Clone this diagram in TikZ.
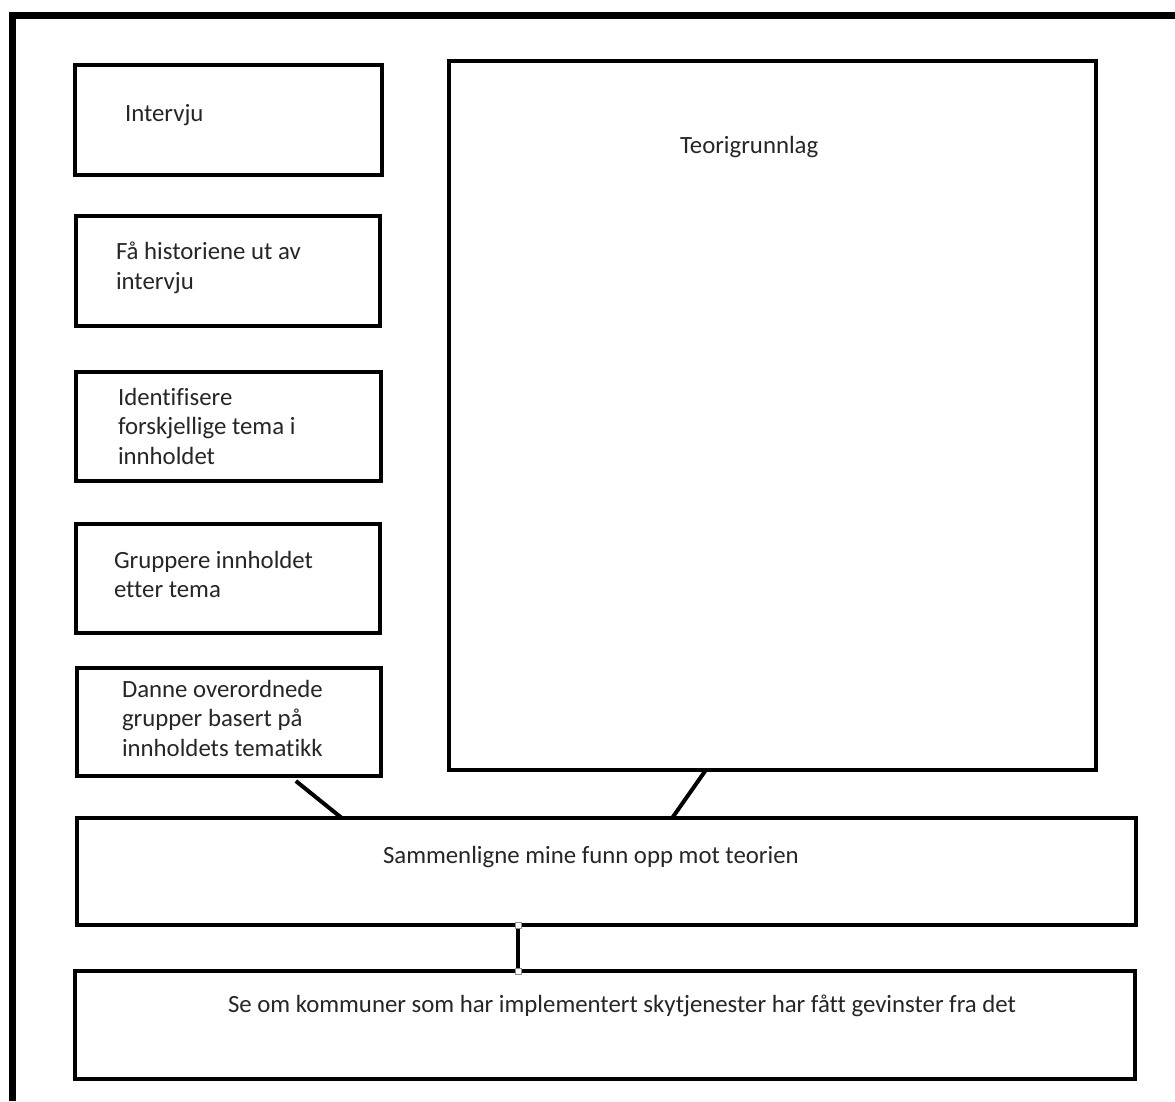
\documentclass[tikz,border=0pt]{standalone}
\usepackage{fontspec}
\setmainfont[Ligatures=NoCommon]{Carlito}
\usetikzlibrary{calc}
\begin{document}
\begin{tikzpicture}[x=1pt,y=-1pt,
  box/.style={draw=black,line width=4pt,inner sep=0pt,outer sep=0pt,anchor=north west,fill=none},
  txt/.style={text=black!85,inner sep=0pt,outer sep=0pt,anchor=base west,align=left,
    font=\fontsize{24.8}{29.3}\selectfont},
  link/.style={draw=black,line width=4pt},
  handle/.style={draw=black!45,fill=white,line width=0.8pt,minimum size=6pt,inner sep=0pt}]
\useasboundingbox (0,0) rectangle (1175,1101);
\fill[white] (0,0) rectangle (1175,1101);
% outer frame
\draw[line width=7pt] (12.5,1101) -- (12.5,15.5) -- (1175,15.5);
% boxes
\node[box,minimum width=307pt,minimum height=110pt] (b1) at (75,65) {};
\node[box,minimum width=304pt,minimum height=110pt] (b2) at (76,216) {};
\node[box,minimum width=305pt,minimum height=109pt] (b3) at (76,372) {};
\node[box,minimum width=304pt,minimum height=109pt] (b4) at (76,524) {};
\node[box,minimum width=304pt,minimum height=108pt] (b5) at (77,668) {};
\node[box,minimum width=647pt,minimum height=709pt] (teori) at (449,61) {};
\node[box,minimum width=1059pt,minimum height=107pt] (cmp) at (77,818) {};
\node[box,minimum width=1060pt,minimum height=108pt] (res) at (75,971) {};
% texts (base = baseline of the last line)
\node[txt] (t1) at (125,121) {Intervju};
\node[txt] (t2) at (116,289) {Få historiene ut av\\intervju};
\node[txt] (t3) at (118,464) {Identifisere\\forskjellige tema i\\innholdet};
\node[txt] (t4) at (114,597.5) {Gruppere innholdet\\etter tema};
\node[txt] (t5) at (122,756) {Danne overordnede\\grupper basert på\\innholdets tematikk};
\node[txt] (t6) at (680,153) {Teorigrunnlag};
\node[txt] (t7) at (383,863) {Sammenligne mine funn opp mot teorien};
\node[txt] (t8) at (228,1012) {Se om kommuner som har implementert skytjenester har fått gevinster fra det};
% connectors
\coordinate (c1a) at ($(b5.south west)!0.72!(b5.south east)+(0,5)$);
\coordinate (c1b) at ($(cmp.north west)!0.25!(cmp.north east)$);
\draw[link] (c1a) -- (c1b);
\coordinate (c2a) at ($(teori.south west)!0.397!(teori.south east)$);
\coordinate (c2b) at ($(cmp.north west)!0.562!(cmp.north east)$);
\draw[link] (c2a) -- (c2b);
\coordinate (c3a) at ($(cmp.south west)!0.4165!(cmp.south east)$);
\coordinate (c3b) at (c3a |- res.north);
\draw[link] (c3a) -- (c3b);
\node[handle] (h1) at (c3a) {};
\node[handle] (h2) at (c3b) {};
\end{tikzpicture}
\end{document}
